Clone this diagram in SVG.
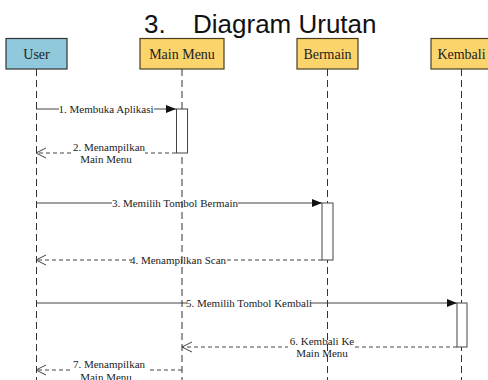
<svg xmlns="http://www.w3.org/2000/svg" width="488" height="380" viewBox="0 0 488 380">
<style>
.title{font-family:"Liberation Sans",Arial,sans-serif;font-size:26px;fill:#111}
.hdr{font-family:"Liberation Serif","Times New Roman",serif;font-size:14px;fill:#222;text-anchor:middle}
.lbl{font-family:"Liberation Serif","Times New Roman",serif;font-size:11px;fill:#222;text-anchor:middle}
.blue{fill:#90c8dc;stroke:#333;stroke-width:1.2}
.yel{fill:#fcd46c;stroke:#4a3e20;stroke-width:1.2}
.life{stroke:#333;stroke-width:1;stroke-dasharray:7 4;fill:none}
.act{fill:#fff;stroke:#444;stroke-width:1}
.msg{stroke:#444;stroke-width:1;fill:none}
.ret{stroke:#444;stroke-width:1;fill:none;stroke-dasharray:4 3}
.bg{fill:#fff}
</style>
<defs>
<marker id="sync" viewBox="0 0 10 10" refX="10" refY="5" markerWidth="10" markerHeight="10" markerUnits="userSpaceOnUse" orient="auto">
<path d="M0,1 L10,5 L0,9 Z" fill="#111"/>
</marker>
<marker id="open" viewBox="0 0 12 12" refX="11" refY="6" markerWidth="12" markerHeight="12" markerUnits="userSpaceOnUse" orient="auto">
<path d="M1,1 L11,6 L1,11" fill="none" stroke="#444" stroke-width="1"/>
</marker>
</defs>
<rect width="488" height="380" fill="#fff"/>
<text class="title" x="144" y="33">3.<tspan x="193">Diagram Urutan</tspan></text>

<g id="connectors">
<line class="msg" x1="36" y1="109" x2="176" y2="109" marker-end="url(#sync)"/>
<rect class="bg" x="59" y="103" width="95" height="12"/>
<text class="lbl" x="106" y="112.5">1. Membuka Aplikasi</text>

<line class="ret" x1="176" y1="153" x2="36" y2="153" marker-end="url(#open)"/>
<rect class="bg" x="73" y="142" width="72" height="13"/>
<text class="lbl" x="109" y="151">2. Menampilkan</text>
<text class="lbl" x="106" y="163">Main Menu</text>

<line class="msg" x1="36" y1="203" x2="322" y2="203" marker-end="url(#sync)"/>
<rect class="bg" x="112" y="197" width="126" height="12"/>
<text class="lbl" x="175" y="206.5">3. Memilih Tombol Bermain</text>

<line class="ret" x1="322" y1="260" x2="36" y2="260" marker-end="url(#open)"/>
<rect class="bg" x="132" y="254" width="92" height="12"/>
<text class="lbl" x="178" y="263.5">4. Menampilkan Scan</text>

<line class="msg" x1="36" y1="303" x2="457" y2="303" marker-end="url(#sync)"/>
<rect class="bg" x="187" y="297" width="124" height="12"/>
<text class="lbl" x="249" y="306.5">5. Memilih Tombol Kembali</text>

<line class="ret" x1="457" y1="347" x2="182" y2="347" marker-end="url(#open)"/>
<rect class="bg" x="288" y="336" width="67" height="13"/>
<text class="lbl" x="322" y="345">6. Kembali Ke</text>
<text class="lbl" x="322" y="357">Main Menu</text>

<line class="ret" x1="182" y1="370" x2="36" y2="370" marker-end="url(#open)"/>
<rect class="bg" x="72" y="359" width="75" height="13"/>
<text class="lbl" x="109" y="368">7. Menampilkan</text>
<text class="lbl" x="106" y="381">Main Menu</text>
</g>

<g id="user">
<line class="life" x1="36.5" y1="69" x2="36.5" y2="380"/>
<rect class="blue" x="6" y="38.5" width="61" height="30.5"/>
<text class="hdr" x="36.5" y="59">User</text>
</g>

<g id="main-menu">
<line class="life" x1="182" y1="69" x2="182" y2="380"/>
<rect class="yel" x="140" y="38.5" width="84" height="30.5"/>
<text class="hdr" x="182" y="59">Main Menu</text>
<rect class="act" x="176.5" y="109" width="11" height="44"/>
</g>

<g id="bermain">
<line class="life" x1="327.5" y1="69" x2="327.5" y2="380"/>
<rect class="yel" x="297" y="38.5" width="61" height="30.5"/>
<text class="hdr" x="327.5" y="59">Bermain</text>
<rect class="act" x="322" y="203" width="11" height="57"/>
</g>

<g id="kembali">
<line class="life" x1="461.5" y1="69" x2="461.5" y2="380"/>
<rect class="yel" x="431" y="38.5" width="61" height="30.5"/>
<text class="hdr" x="461.5" y="59">Kembali</text>
<rect class="act" x="457" y="303" width="10" height="44"/>
</g>
</svg>
